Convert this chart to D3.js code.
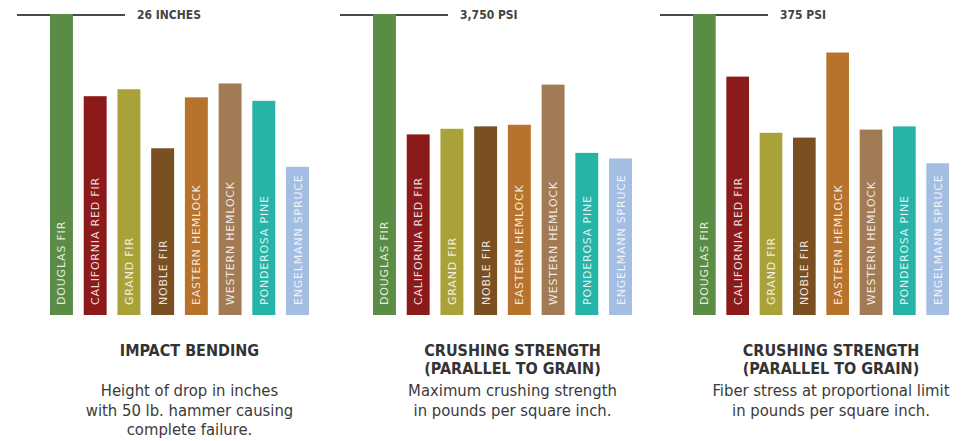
<!DOCTYPE html>
<html>
<head>
	<meta charset="utf-8">
	<title>Wood strength</title>
	<script src="https://cdn.jsdelivr.net/npm/d3@7"></script>
	<style>
		html, body {
			margin: 0;
			padding: 0;
			background: #fff;
		}
		svg text {
			font-family: "DejaVu Sans Condensed", "Open Sans", sans-serif;
		}
		svg text.bar-label {
			font-family: "DejaVu Sans", sans-serif;
			letter-spacing: 0.8px;
		}
	</style>
</head>
<body>
	<svg id="chart" width="970" height="441"></svg>
	<script>
		// species and their bar colours
		var species = ["DOUGLAS FIR", "CALIFORNIA RED FIR", "GRAND FIR", "NOBLE FIR",
			"EASTERN HEMLOCK", "WESTERN HEMLOCK", "PONDEROSA PINE", "ENGELMANN SPRUCE"];
		var colors = ["#5a8c46", "#8c1a1a", "#a9a238", "#7a4f22", "#b7722c", "#a27b55", "#26b3a8", "#a3bde3"];

		// values
		var impactBending = [26, 18.9, 19.5, 14.4, 18.8, 20.0, 18.5, 12.8];      // inches
		var crushingMax = [3750, 2250, 2320, 2350, 2370, 2870, 2020, 1950];      // psi
		var crushingFiber = [375, 297, 227, 221, 327, 231, 235, 189];           // psi

		var topLabels = ["26 INCHES", "3,750 PSI", "375 PSI"];
		var titles = [["IMPACT BENDING"], ["CRUSHING STRENGTH", "(PARALLEL TO GRAIN)"], ["CRUSHING STRENGTH", "(PARALLEL TO GRAIN)"]];
		var notes = [
			["Height of drop in inches", "with 50 lb. hammer causing", "complete failure."],
			["Maximum crushing strength", "in pounds per square inch."],
			["Fiber stress at proportional limit", "in pounds per square inch."]
		];

		var panels = [
			{ values: impactBending, x0: 50, x1: 309 },
			{ values: crushingMax, x0: 373, x1: 632 },
			{ values: crushingFiber, x0: 693, x1: 949 }
		];

		var svg = d3.select("#chart");
		var baseY = 315, topY = 14;

		panels.forEach(function(p, i) {
			var x = d3.scaleBand().domain(species).range([p.x0, p.x1]).paddingInner(0.32).paddingOuter(0);
			var y = d3.scaleLinear().domain([0, d3.max(p.values)]).range([baseY, topY]);
			var g = svg.append("g");
			var cx = (p.x0 + p.x1) / 2 + 10;

			// max reference line
			g.append("line")
				.attr("x1", p.x0 - 33).attr("x2", p.x0 + 75)
				.attr("y1", y(d3.max(p.values)) + 1).attr("y2", y(d3.max(p.values)) + 1)
				.attr("stroke", "#4a4a4a").attr("stroke-width", 2);
			g.append("text")
				.attr("x", p.x0 + 87).attr("y", y(d3.max(p.values)) + 5)
				.attr("font-size", 12).attr("font-weight", "bold").attr("fill", "#444")
				.text(topLabels[i]);

			var bars = g.selectAll("g.bar").data(species).enter().append("g").attr("class", "bar");
			bars.append("rect")
				.attr("x", function(d) { return x(d); })
				.attr("width", x.bandwidth())
				.attr("y", function(d, j) { return y(p.values[j]); })
				.attr("height", function(d, j) { return baseY - y(p.values[j]); })
				.attr("fill", function(d, j) { return colors[j]; });
			bars.append("text")
				.attr("class", "bar-label")
				.attr("transform", function(d) {
					return "translate(" + (x(d) + x.bandwidth() / 2 + 4) + "," + (baseY - 10) + ") rotate(-90)";
				})
				.attr("font-size", 11)
				.attr("fill", "#fff")
				.attr("fill-opacity", 0.85)
				.text(function(d) { return d; });

			titles[i].forEach(function(t, k) {
				g.append("text")
					.attr("x", cx).attr("y", 356 + k * 18)
					.attr("text-anchor", "middle")
					.attr("font-size", 16).attr("font-weight", "bold").attr("fill", "#333")
					.text(t);
			});
			notes[i].forEach(function(t, k) {
				g.append("text")
					.attr("x", cx).attr("y", 396 + k * 19.5)
					.attr("text-anchor", "middle")
					.attr("font-size", 16.5).attr("fill", "#3a3a3a")
					.text(t);
			});
		});
	</script>
</body>
</html>
